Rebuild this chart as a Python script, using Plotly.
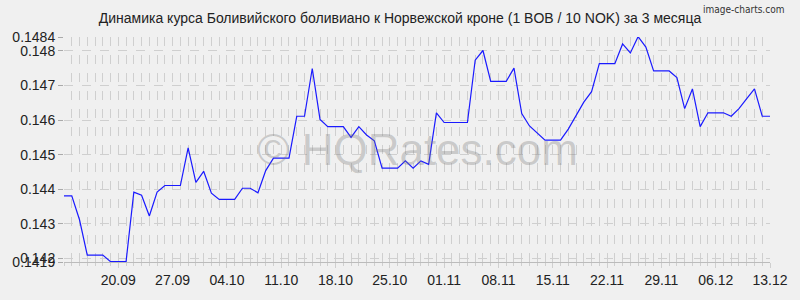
import plotly.graph_objects as go
import pandas as pd

start_date = "2024-09-13"
rates = [
    0.14381, 0.14381, 0.14312, 0.14210, 0.14210, 0.14210, 0.14191, 0.14191,
    0.14191, 0.14392, 0.14383, 0.14323, 0.14392, 0.14411, 0.14411, 0.14411,
    0.14520, 0.14420, 0.14452, 0.14389, 0.14371, 0.14371, 0.14371, 0.14403,
    0.14403, 0.14390, 0.14454, 0.14490, 0.14490, 0.14490, 0.14611, 0.14611,
    0.14749, 0.14602, 0.14581, 0.14581, 0.14581, 0.14550, 0.14581, 0.14557,
    0.14540, 0.14461, 0.14461, 0.14461, 0.14482, 0.14461, 0.14482, 0.14472,
    0.14621, 0.14593, 0.14593, 0.14593, 0.14593, 0.14773, 0.14801, 0.14712,
    0.14712, 0.14712, 0.14750, 0.14619, 0.14583, 0.14562, 0.14542, 0.14542,
    0.14542, 0.14574, 0.14614, 0.14652, 0.14682, 0.14763, 0.14763, 0.14763,
    0.14820, 0.14794, 0.14841, 0.14811, 0.14742, 0.14742, 0.14742, 0.14723,
    0.14633, 0.14690, 0.14581, 0.14621, 0.14621, 0.14621, 0.14611, 0.14633,
    0.14662, 0.14690, 0.14611, 0.14611,
]
dates = pd.date_range(start_date, periods=len(rates), freq="D")

x_tick_dates = ["2024-09-20", "2024-09-27", "2024-10-04", "2024-10-11", "2024-10-18",
                "2024-10-25", "2024-11-01", "2024-11-08", "2024-11-15", "2024-11-22",
                "2024-11-29", "2024-12-06", "2024-12-13"]
x_tick_labels = ["20.09", "27.09", "04.10", "11.10", "18.10", "25.10", "01.11",
                 "08.11", "15.11", "22.11", "29.11", "06.12", "13.12"]
y_tick_vals = [0.1419, 0.142, 0.143, 0.144, 0.145, 0.146, 0.147, 0.148, 0.1484]
y_tick_labels = ["0.1419", "0.142", "0.143", "0.144", "0.145", "0.146", "0.147", "0.148", "0.1484"]

title_text = "Динамика курса Боливийского боливиано к Норвежской кроне (1 BOB / 10 NOK) за 3 месяца"

grid_col = "#cfcfcf"
bg = "#f0f0f0"
font_family = "Liberation Sans, Arial, sans-serif"

fig = go.Figure()
fig.add_trace(go.Scatter(x=dates, y=rates, mode="lines",
                         line=dict(color="#1a1aff", width=1.2), hoverinfo="skip"))

fig.update_layout(
    width=800, height=300,
    margin=dict(l=60, r=20, t=37, b=34),
    paper_bgcolor=bg, plot_bgcolor=bg,
    showlegend=False,
    font=dict(family=font_family, size=14, color="#222222"),
    title=dict(text=title_text, x=0.5, xanchor="center", y=0.94, yanchor="middle",
               font=dict(size=14, color="#222222")),
    xaxis=dict(
        range=[dates[0], dates[-1]],
        tickvals=x_tick_dates, ticktext=x_tick_labels,
        showgrid=True, gridcolor=grid_col, griddash="dash", gridwidth=1,
        ticks="outside", ticklen=5, tickcolor=grid_col,
        showline=True, linecolor="#bbbbbb", linewidth=1,
        zeroline=False,
        minor=dict(dtick=86400000, tick0=start_date, showgrid=True, gridcolor=grid_col,
                   griddash="dash", gridwidth=1, ticks="outside", ticklen=3,
                   tickcolor=grid_col),
        tickfont=dict(size=14),
    ),
    yaxis=dict(
        range=[0.1419, 0.1484],
        tickvals=y_tick_vals, ticktext=y_tick_labels,
        showgrid=True, gridcolor=grid_col, griddash="dash", gridwidth=1,
        ticks="outside", ticklen=5, tickcolor="#aaaaaa",
        showline=False, zeroline=False,
        tickfont=dict(size=14),
    ),
    annotations=[
        dict(text="© HQRates.com", x=0.5, y=0.5, xref="paper", yref="paper",
             showarrow=False, font=dict(size=44, color="rgba(120,120,120,0.33)",
                                        family=font_family)),
        dict(text="image-charts.com", x=1.0 + 16 / 720, y=1.0 + 28 / 229,
             xref="paper", yref="paper", xanchor="right", yanchor="middle",
             showarrow=False, font=dict(size=10, color="#333333",
                                        family="DejaVu Sans Condensed, DejaVu Sans, sans-serif")),
    ],
)

fig.write_html("out.html")
